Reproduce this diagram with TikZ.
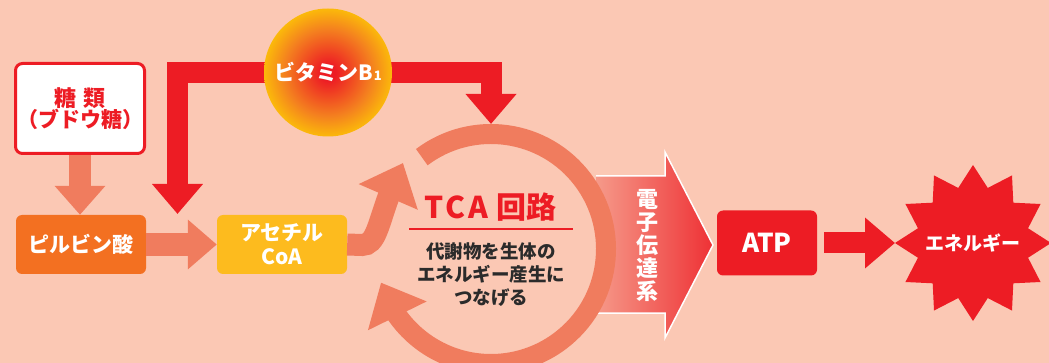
\documentclass[tikz,border=0pt]{standalone}
\usepackage{fontspec}
\setmainfont{Noto Sans CJK JP}
\usetikzlibrary{arrows.meta,shapes.geometric,bending}
\definecolor{bg}{HTML}{FBC8B4}
\definecolor{sal}{HTML}{F07C5E}
\definecolor{rd}{HTML}{ED1C24}
\definecolor{org}{HTML}{F37021}
\definecolor{gold}{HTML}{FDBB1E}
\definecolor{txt}{HTML}{2B2B2B}
\definecolor{yel}{HTML}{FFD500}
\definecolor{orm}{HTML}{F4801F}
\definecolor{etl}{HTML}{F8BDA6}
\pgfdeclareradialshading{vitshade}{\pgfpoint{0bp}{0bp}}{color(0bp)=(rd); color(3bp)=(rd); color(17bp)=(orm); color(29bp)=(yel); color(50bp)=(yel)}
\pgfdeclarehorizontalshading{etshade}{100bp}{color(0bp)=(etl); color(8bp)=(etl); color(85bp)=(rd); color(100bp)=(rd)}
\pgfdeclarelayer{bgl}
\pgfdeclarelayer{under}
\pgfsetlayers{bgl,under,main}
\begin{document}
\begin{tikzpicture}[x=1pt,y=-1pt,
  box/.style={rounded corners=6pt, inner sep=0pt, text=white, align=center,
    font=\bfseries\fontsize{21}{24}\selectfont},
  sarrow/.style={draw=sal, line width=22pt, -{Triangle[width=49pt,length=29pt]}},
  rarrow/.style={draw=rd, line width=21pt, line join=miter, -{Triangle[width=49pt,length=30pt]}},
]
\begin{pgfonlayer}{bgl}
\fill[bg] (0,0) rectangle (1049,363);
\end{pgfonlayer}
\useasboundingbox (0,0) rectangle (1049,363);
\clip (0,0) rectangle (1049,363);

% sugar box
\node[draw=rd, line width=3pt, fill=white, rounded corners=7pt, minimum width=129pt,
  minimum height=90pt, inner sep=0pt, text=rd, align=center] (sugar) at (80,108.5)
  {\bfseries\fontsize{22}{28}\selectfont 糖\hspace{7pt}類\\[-1pt]
   \bfseries\fontsize{21}{28}\selectfont （ブドウ糖）};

% boxes
\node[box, fill=org, minimum width=130pt, minimum height=59pt] (pyr) at (81,244.5) {ピルビン酸};
\node[box, fill=gold, minimum width=130pt, minimum height=59pt] (acoa) at (282,244.5) {アセチル\\CoA};

% salmon arrows
\draw[sarrow] (sugar.south) -- (sugar.south |- pyr.north);
\draw[sarrow, line width=23pt, -{Triangle[width=48pt,length=29pt]}] (pyr.east) -- (acoa.west);

% electron transport arrow
\coordinate (ettip) at (713,245);
\shade[shading=etshade] (596,176) -- (665,176) -- (665,152) -- (ettip) -- (665,338) -- (665,313) -- (596,313) -- cycle;
\draw[white, line width=1.5pt] (596,176) -- (665,176) -- (665,152) -- (ettip) -- (665,338) -- (665,313) -- (596,313);
\node[text=white, align=center, inner sep=0pt, font=\bfseries\fontsize{22}{23}\selectfont] (et) at (647,245)
  {電\\子\\伝\\達\\系};

% TCA ring
\coordinate (tc) at (491,249);
\draw[draw=sal, line width=20pt, -{Triangle[width=63pt,length=37pt,flex]}]
  (tc) ++(-127:115) arc[start angle=-127, end angle=163, radius=115];

% acetyl -> ring
\coordinate (ringin) at (403,163);
\draw[draw=sal, line width=22pt, -{Triangle[width=62pt,length=37pt,flex]}]
  (acoa.east) -- (362,245) .. controls (380,245) and (378,212) .. (ringin);

% TCA texts
\node[text=rd, inner sep=0pt, font=\bfseries\fontsize{30}{32}\selectfont] (tca) at (490,207)
  {T\kern2.5pt C\kern2.5pt A\hspace{8pt}回路};
\coordinate (ul1) at (409,229);
\coordinate (ul2) at (573,229);
\draw[rd, line width=1.5pt] (ul1) -- (ul2);
\node[text=txt, align=center, inner sep=0pt, font=\bfseries\fontsize{18.5}{23}\selectfont] (desc) at (491,275)
  {代謝物を生体の\\エネルギー産生に\\つなげる};

% vitamin
\node[circle, minimum size=128pt, inner sep=0pt, shade, shading=vitshade, text=white,
  font=\bfseries\fontsize{21}{21}\selectfont] (vit) at (328,72.5)
  {ビタミンB\kern1pt{\fontsize{13}{13}\selectfont 1}};
\coordinate (vl) at (177.5,214);
\coordinate (vr) at (491,124);
\begin{pgfonlayer}{under}
\draw[rarrow] (vit.center) -| (vl);
\draw[rarrow] (vit.center) -| (vr);
\end{pgfonlayer}

% ATP and energy
\node[box, fill=rd, minimum width=100pt, minimum height=65pt, font=\bfseries\fontsize{26}{28}\selectfont] (atp) at (767,243) {ATP};
\coordinate (ec) at (973,243);
\fill[rd] ([shift={(ec)}]90:78) \foreach \k in {1,...,23}{ -- ([shift={(ec)}]90+15*\k:{ifthenelse(isodd(\k),57,78)}) } -- cycle;
\coordinate (etipl) at ([shift={(ec)}]180:78);
\node[text=white, inner sep=0pt, font=\bfseries\fontsize{19}{20}\selectfont] (energy) at (ec) {エネルギー};
\draw[rarrow, shorten <=7pt] (atp.east) -- (etipl);
\end{tikzpicture}
\end{document}
